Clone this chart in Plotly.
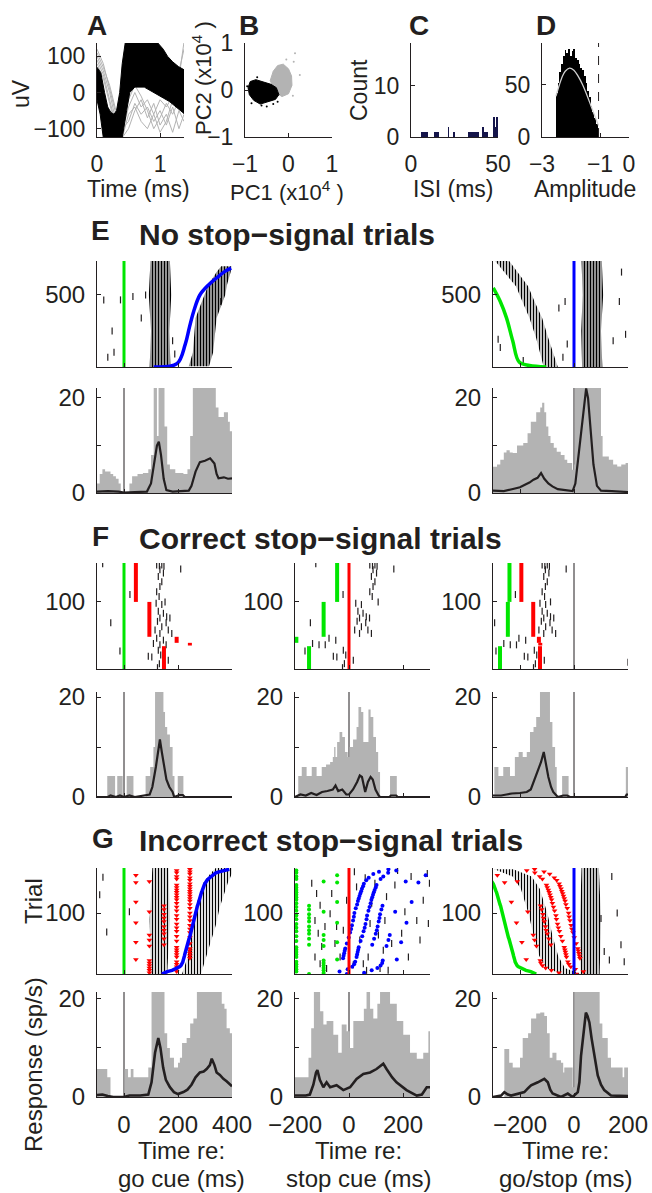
import plotly.graph_objects as go

W, H = 652, 1193
FONT = "Liberation Sans, Arial, Helvetica, sans-serif"
INK = "#231f20"
GRAY = "#b3b3b3"
GREEN = "#00e600"
BLUE = "#0000ff"
RED = "#ff0000"
NAVY = "#15154a"

# ================= DATA =================
# --- A: waveforms (ms, uV) ---
a_up_t = [0, 0.06, 0.12, 0.17, 0.22, 0.27, 0.31, 0.36, 0.40, 0.45, 0.95, 1.05, 1.12, 1.20, 1.29, 1.38]
a_up_v = [70, 55, 0, -40, -55, -60, -50, 0, 80, 140, 140, 120, 100, 85, 72, 63]
a_lo_t = [0, 0.05, 0.10, 0.40, 0.47, 0.52, 0.60, 0.75, 0.85, 0.95, 1.05, 1.15, 1.25, 1.38]
a_lo_v = [-20, -60, -125, -125, -50, 0, 15, 15, 5, -5, -15, -25, -40, -58]
a_gray_t = [0, 0.1, 0.2, 0.3, 0.4, 0.5, 0.6, 0.7, 0.8, 0.9, 1.0, 1.1, 1.2, 1.3, 1.38]
a_gray_1 = [120, 80, 10, -60, -100, -80, -30, -60, -40, -80, -50, -90, -40, -100, -60]
a_gray_2 = [100, 60, 0, -80, -125, -100, -50, -20, -70, -30, -90, -60, -110, -50, -80]
a_gray_3 = [90, 50, -20, -90, -110, -40, 0, -40, -20, -60, -20, -40, -10, 40, 140]
a_gray_4 = [110, 70, 20, -50, -90, -20, 20, -10, -50, -100, -70, -30, -60, -20, 10]
a_gray_5 = [80, 40, -30, -100, -125, -60, -40, -80, -100, -60, -110, -80, -20, 60, 120]

# --- B: PC clusters (x1e4) ---
b_black_x = [-0.93, -0.88, -0.75, -0.6, -0.4, -0.28, -0.22, -0.3, -0.45, -0.65, -0.8, -0.9]
b_black_y = [0.05, 0.18, 0.22, 0.18, 0.12, 0.05, -0.1, -0.2, -0.25, -0.3, -0.22, -0.1]
b_gray_x = [-0.42, -0.35, -0.25, -0.12, 0.0, 0.07, 0.08, 0.0, -0.15, -0.3]
b_gray_y = [0.2, 0.4, 0.52, 0.55, 0.45, 0.3, 0.1, -0.08, -0.14, -0.05]
b_gray_out_x = [0.15, 0.26, 0.12, -0.05, 0.1]
b_gray_out_y = [0.78, 0.32, 0.6, 0.65, -0.12]
b_black_out_x = [-0.95, -0.85, -0.5, -0.25, -0.72, -0.62, -0.35]
b_black_out_y = [0.08, -0.28, -0.35, -0.25, 0.27, -0.33, -0.3]

# --- C: ISI histogram ---
c_bin_left = [6, 7, 8, 9, 13, 14, 15, 21, 24, 33, 34, 35, 36, 37, 38, 41, 42, 43, 47, 48, 49]
c_count = [1, 1, 1, 1, 1, 1, 1, 2, 1, 1, 1, 1, 1, 1, 1, 2, 1, 1, 4, 2, 4]

# --- D: amplitude histogram ---
d_bin_left = [-2.52, -2.46, -2.40, -2.34, -2.28, -2.22, -2.16, -2.10, -2.04, -1.98, -1.92, -1.86, -1.80,
              -1.74, -1.68, -1.62, -1.56, -1.50, -1.44, -1.38, -1.32, -1.26, -1.20, -1.14, -1.08]
d_count = [42, 52, 62, 70, 78, 83, 80, 84, 78, 82, 84, 76, 74, 70, 66, 64, 58, 52, 44, 38, 30, 24, 18, 12, 8]
d_fit_x = [-2.52, -2.4, -2.3, -2.2, -2.05, -1.9, -1.75, -1.6, -1.45, -1.3, -1.15, -1.05]
d_fit_y = [39, 50, 58, 63, 66, 64, 58, 50, 40, 29, 18, 11]
d_thresh = -1.05

# --- E: no stop-signal trials ---
e_ntrials = 736
e1_b1_tr = [0, 250, 500, 736]
e1_b1_lo = [95, 100, 92, 98]
e1_b1_hi = [172, 168, 175, 170]
e1_b2_tr = [5, 100, 340, 500, 568, 660, 700]
e1_b2_lo = [240, 255, 265, 300, 312, 343, 360]
e1_b2_hi = [315, 330, 343, 375, 381, 395, 398]
e1_rt_tr = [0, 23, 159, 273, 386, 500, 568, 618, 664, 686]
e1_rt_t = [110, 196, 227, 242, 258, 281, 312, 343, 374, 397]
e1_sp_t = [-75, -13, -44, -60, -37, 33, 80, 64, 188, 180, 358]
e1_sp_tr = [466, 466, 250, 68, 102, 489, 500, 341, 91, 182, 455]

e3_go_tr = [550, 455, 341, 182, 34, 11, 0]
e3_go_t = [-299, -273, -250, -227, -203, -165, -103]
e3_bA_tr = [0, 20, 200, 341, 450, 560, 640, 736]
e3_bA_lo = [-110, -115, -140, -165, -190, -215, -250, -292]
e3_bA_hi = [-60, -65, -95, -118, -145, -170, -200, -240]
e3_bB_tr = [0, 250, 500, 736]
e3_bB_lo = [30, 27, 32, 28]
e3_bB_hi = [105, 100, 108, 103]
e3_sp_t = [-56, -33, -25, -41, 168, 176, 191, 145, -281, -273, -188]
e3_sp_tr = [409, 455, 159, 68, 455, 659, 227, 182, 193, 136, 45]

e1_g_t = [-100, -90, -80, -70, -50, -40, -30, -20, -12, 18, 20, 30, 50, 70, 90, 100, 110, 118, 122, 128,
          140, 150, 160, 170, 190, 220, 235, 245, 255, 330, 340, 350, 370, 385, 392, 400]
e1_g_v = [2, 4, 5, 4.5, 4, 3.5, 3, 2, 0, 0, 2, 3.5, 4, 4.2, 5, 8, 25, 25, 12, 25,
          25, 14, 6, 5, 4.2, 4, 5, 12, 25, 25, 18, 16, 17, 15, 13, 10]
e1_m_t = [-100, -60, -20, 0, 40, 85, 100, 112, 122, 129, 137, 147, 157, 180, 240, 250, 265, 281, 300, 319,
          335, 343, 350, 370, 385, 400]
e1_m_v = [0.3, 0.4, 0.3, 0.1, 0.2, 0.3, 2, 6, 10, 10.8, 8, 3, 0.6, 0.3, 0.5, 1.5, 4.5, 6.5, 6.8, 7.3,
          6.2, 4, 3.1, 3.3, 3.0, 3.1]
e3_g_t = [-300, -285, -273, -260, -250, -238, -227, -211, -188, -172, -160, -140, -125, -118, -110, -103, -95,
          -87, -75, -64, -49, -35, -25, -7, 0, 3, 95, 100, 106, 129, 145, 160, 175, 191, 200]
e3_g_v = [5.5, 6, 7, 8.5, 9, 8.5, 8.4, 10, 10.5, 12.6, 15, 17, 18, 19, 17, 14, 12,
          10.5, 9.5, 8.7, 8, 7, 6.3, 4.9, 6, 25, 25, 12, 7.7, 7, 6, 5.6, 6, 6.3, 6]
e3_m_t = [-300, -260, -230, -200, -180, -165, -150, -135, -122, -110, -95, -80, -60, -40, -20, -5, 5, 20,
          35, 45, 52, 60, 72, 85, 100, 140, 180, 200]
e3_m_v = [0.5, 0.4, 0.8, 1.2, 1.8, 2.2, 2.8, 3.2, 4.2, 3, 2, 1.4, 0.8, 0.6, 0.4, 0.4, 2, 10,
          18, 22, 20, 14, 6, 1.5, 0.5, 0.4, 0.3, 0.2]

# --- F: correct stop-signal trials ---
f_ntrials = 158
f_grp_lo = [100, 48, 39, 35, 0]
f_grp_hi = [158, 100, 48, 39, 34]
f_grp_ssd = [44, 94, 195, 244, 148]
f_grp_go3 = [-239, -245, -325, -369, -274]   # go-cue time in go/stop alignment
f_sp_t = [-79, 121, 131, 140, 148, 133, 146, 127, 140, 133, 121, 130, 119, 140, 152, 127, 146, 133, 158, 124,
          156, 140, 115, 164, 133, 121, 146, 177, 109, 133, 156, 127, 90, 103, 136, 164, 131, 124, 22, -49,
          -15, 210, 170, 474]
f_sp_tr = [157, 155, 154, 155, 153, 148, 143, 138, 130, 123, 115, 108, 98, 96, 100, 86, 83, 76, 78, 71,
           69, 63, 58, 58, 53, 46, 43, 53, 38, 36, 36, 28, 19, 18, 21, 13, 8, 2, 111, 69,
           27, 149, 76, 10]
f1_g_t = [-100, -62, -33, -25, -5, 10, 35, 80, 97, 109, 115, 146, 152, 160, 170, 180, 187, 199, 220, 400]
f1_g_v = [0, 4.2, 0, 4.2, 0, 4.2, 0, 4.2, 6, 10, 25, 17, 14, 12.5, 10, 4.2, 0, 4.2, 0, 0]
f1_m_t = [-100, -60, -50, -30, -15, 0, 20, 40, 95, 105, 118, 127, 133, 140, 148, 157, 168, 180, 186, 205,
          218, 225, 400]
f1_m_v = [0, 0, 0.3, 0, 0.3, 0, 0.3, 0, 0.5, 2, 6, 9, 11.5, 9, 6, 3.5, 2, 1, 0, 0.4, 0.4, 0, 0]
f2_g_t = [-200, -188, -175, -157, -138, -120, -101, -85, -70, -60, -55, -50, -44, -35, -25, -15, -5, 2, 15,
          28, 35, 45, 53, 72, 80, 90, 100, 108, 115, 152, 177, 300]
f2_g_v = [0, 4.2, 6, 4.2, 6, 4.2, 6, 6.5, 7, 8, 10, 8, 11, 13, 12, 9, 8, 10, 11.5, 14, 18, 17, 11, 17.5,
          16, 12, 9, 5, 0, 4.2, 0, 0]
f2_m_t = [-200, -180, -160, -140, -120, -100, -80, -60, -50, -40, -25, -10, 0, 15, 30, 40, 48, 55, 60, 70,
          80, 88, 98, 110, 115, 150, 155, 175, 180, 300]
f2_m_v = [0, 0.5, 0.3, 0.8, 0.4, 1, 1.2, 1.5, 2.3, 1.2, 1.5, 0.5, 0.5, 1.5, 3, 4.3, 4, 2, 1, 3,
          4, 3.5, 1.5, 0.3, 0, 0, 0.3, 0.3, 0, 0]
f3_g_t = [-300, -295, -280, -262, -237, -219, -205, -190, -175, -163, -150, -140, -126, -89, -80, -70, -64,
          -44, -20, 192, 200]
f3_g_v = [0, 6, 4.2, 6, 4.2, 8, 9, 8, 9, 13, 14, 16, 25, 15, 10, 6, 0, 4.2, 0, 6, 6]
f3_m_t = [-300, -270, -250, -230, -200, -175, -160, -150, -135, -122, -112, -105, -95, -85, -77, -65, -60,
          -40, -25, -15, 190, 195, 200]
f3_m_v = [0.3, 0.3, 0.5, 0.7, 0.8, 1, 1.5, 3, 5, 7, 9, 7, 4, 2, 1, 0.3, 0, 0.3, 0.3, 0, 0, 0.5, 0.5]

# --- G: incorrect stop-signal trials (trials sorted by RT) ---
g_ntrials = 174
g_trial = [0, 2, 4, 6, 8, 10, 12, 14, 16, 18, 20, 22, 24, 26, 28, 30, 32, 34, 36, 38, 40, 42, 44, 46, 48,
           50, 52, 54, 56, 58, 60, 62, 64, 66, 68, 70, 72, 74, 76, 78, 80, 82, 84, 86, 88, 90, 92, 94, 96,
           98, 100, 102, 104, 106, 108, 110, 112, 114, 116, 118, 120, 122, 124, 126, 128, 130, 132, 134,
           136, 138, 140, 142, 144, 146, 148, 150, 152, 154, 156, 158, 160, 162, 164, 166, 168, 170, 172]
g_rt = [140, 150, 160, 178, 190, 199, 207, 211, 214, 217, 218, 219, 221, 222, 223, 224, 225, 226, 227, 228,
        229, 230, 231, 233, 234, 236, 237, 238, 240, 241, 243, 244, 245, 247, 248, 249, 251, 252, 253, 254,
        255, 256, 257, 258, 259, 260, 261, 262, 262, 263, 264, 265, 267, 268, 269, 271, 272, 274, 275, 276,
        277, 278, 280, 281, 283, 284, 286, 287, 289, 290, 292, 294, 296, 297, 299, 301, 304, 308, 312, 317,
        322, 328, 334, 340, 355, 370, 390]
g_ssd_levels = [44, 94, 148, 195, 244]
g_ssd_code = "324242424242" "154545454542" "351423542354" "354354135435" "435243543541" "545454545454" "545125454154545"
g1_b1_tr = [0, 90, 174]
g1_b1_lo = [100, 95, 105]
g1_b1_hi = [160, 170, 165]
g1_b2_tr = [0, 20, 50, 80, 110, 130, 150, 165, 174]
g1_b2_lo = [215, 230, 245, 255, 265, 280, 295, 320, 340]
g1_b2_hi = [285, 300, 320, 340, 355, 370, 385, 400, 400]
g1_sp_t = [-64, 20, -78, -90]
g1_sp_tr = [69, 102, 159, 130]
g2_sp_t = [-138, -120, -107, -126, -114, -101, -126, -107, -83, -89, -70, -64, -52, -33, -21, -9, 28, 40, 53,
           71, 78, 84, 96, 109, 127, 133, 139, 145, 158, 170, 195, 207, 220, 251, 263, 275, 294, 298, 115,
           65, 16, -46, 180, 230, 290, 20, 60]
g2_sp_tr = [149, 132, 113, 88, 67, 45, 28, 17, 9, 78, 99, 132, 50, 28, 72, 121, 143, 56, 17, 28, 83, 116,
            149, 64, 39, 88, 127, 6, 50, 146, 67, 102, 28, 88, 56, 121, 83, 149, 9, 6, 15, 78, 170, 160, 165,
            168, 158]
g3_bA_tr = [0, 10, 30, 60, 100, 140, 160, 172]
g3_bA_lo = [-45, -104, -129, -148, -169, -197, -227, -295]
g3_bA_hi = [25, -34, -59, -78, -99, -127, -157, -225]
g3_bB_tr = [0, 90, 174]
g3_bB_lo = [25, 22, 28]
g3_bB_hi = [95, 100, 92]
g3_sp_t = [112, 174, 186, 131, 100, 140, 160]
g3_sp_tr = [37, 48, 20, 23, 91, 160, 100]

g1_g_t = [-100, -64, -62, -52, -50, 0, 2, 15, 25, 35, 47, 84, 90, 100, 102, 146, 150, 160, 170, 185, 200,
          207, 215, 232, 245, 257, 270, 356, 362, 372, 380, 392, 400]
g1_g_v = [5.7, 5.7, 4, 4, 0, 0, 5.7, 4, 5.7, 4, 4, 4, 6, 6, 25, 25, 13, 10, 8, 6, 7, 8, 11, 12, 15, 16, 25,
          25, 19, 18, 14, 13, 13]
g1_m_t = [-100, -80, -60, -40, 0, 20, 60, 90, 102, 115, 127, 135, 145, 155, 170, 185, 200, 220, 235, 250,
          265, 281, 295, 306, 318, 325, 335, 343, 355, 368, 380, 393, 400]
g1_m_v = [0.4, 0.5, 0.2, 0, 0, 0.3, 0.3, 0.5, 3, 9, 12, 10, 6, 3.5, 2, 1, 0.6, 1, 1.5, 2.5, 4, 5, 5.2, 5.7,
          6.5, 7.8, 6.5, 5, 4.5, 3.7, 3.2, 2.4, 2.2]
g2_g_t = [-200, -160, -150, -140, -130, -118, -107, -95, -83, -70, -58, -40, -27, -9, 3, 16, 40, 55, 65, 78,
          90, 105, 115, 140, 152, 177, 201, 226, 251, 275, 294, 300]
g2_g_v = [4, 4, 8, 14, 25, 25, 17.5, 14.8, 15.5, 15.5, 12.7, 9, 14.8, 13.4, 10, 15.5, 15.5, 18, 25, 18, 16,
          19, 25, 25, 19, 15.5, 12.7, 9, 7.8, 9, 13.4, 13]
g2_m_t = [-200, -160, -145, -132, -122, -117, -108, -95, -83, -70, -46, -21, 4, 28, 53, 78, 102, 127, 139,
          160, 176, 213, 251, 270, 288, 300]
g2_m_v = [0.3, 0.3, 0.5, 2.5, 5, 5.5, 3.5, 2, 3, 2, 2.4, 1.4, 2, 3.7, 4.7, 5, 5.7, 6.8, 5.7, 4, 3, 1.4, 0.3,
          0.5, 2, 2]
g3_g_t = [-300, -262, -258, -246, -240, -227, -209, -200, -190, -170, -159, -140, -125, -110, -100, -90, -80,
          -65, -48, -40, -36, -11, -5, 2, 88, 95, 105, 125, 137, 174, 180, 186, 200]
g3_g_v = [0, 0, 9.8, 9.8, 7, 6, 6, 8, 12, 13, 16, 17, 17.2, 16.5, 13, 8, 9, 7.5, 7, 5, 6, 6, 2, 25, 25, 15,
          12, 8, 6, 6, 4, 6, 6]
g3_m_t = [-300, -270, -258, -245, -233, -209, -184, -170, -159, -134, -120, -110, -97, -88, -79, -60, -48,
          -23, -5, 14, 20, 26, 38, 44, 50, 57, 65, 75, 88, 100, 112, 137, 186, 200]
g3_m_v = [0, 0.3, 1, 0.5, 0.3, 0.6, 1, 1.8, 2.4, 3, 3.5, 3.7, 3, 1.5, 0.7, 0.2, 0, 0.7, 0, 1, 3, 8.4, 13.9,
          17.2, 16.5, 15.2, 12, 8.4, 4.4, 2.5, 1.4, 0.3, 0.3, 0.2]

# ================= FIGURE =================
fig = go.Figure()
layout_axes = {}


def names(i):
    return ("x" if i == 1 else f"x{i}", "y" if i == 1 else f"y{i}")


def make_axes(i, box, xr, yr, xtv, ytv, ymin=None, xlab=False, fs=24):
    x0, x1, y0, y1 = box
    xn, yn = names(i)
    base = dict(showline=True, linecolor=INK, linewidth=1, ticks="inside", ticklen=4, tickcolor=INK,
                tickwidth=1, showgrid=False, zeroline=False, fixedrange=True, automargin=False,
                tickfont=dict(family=FONT, size=fs, color=INK))
    sfx = "" if i == 1 else str(i)
    layout_axes["xaxis" + sfx] = dict(base, domain=[x0 / W, x1 / W], range=xr, anchor=yn,
                                      tickvals=xtv, showticklabels=xlab, ticklabelstandoff=6)
    ya = dict(base, domain=[1 - y1 / H, 1 - y0 / H], range=yr, anchor=xn, tickvals=ytv,
              ticklabelstandoff=6)
    if ymin is not None:
        ya["minor"] = dict(tickvals=ymin, ticks="inside", ticklen=4, tickcolor=INK, tickwidth=1, showgrid=False)
    layout_axes["yaxis" + sfx] = ya


def add(i, tr):
    xn, yn = names(i)
    tr.update(xaxis=xn, yaxis=yn, showlegend=False, hoverinfo="skip")
    fig.add_trace(tr)


def band(i, trs, lo, hi, size=3, solidity=0.5):
    xs = list(lo) + list(hi)[::-1] + [lo[0]]
    ys = list(trs) + list(trs)[::-1] + [trs[0]]
    add(i, go.Scatter(x=xs, y=ys, mode="lines", line=dict(width=0, color="rgba(0,0,0,0)"),
                      fill="toself", fillcolor="rgba(0,0,0,0)",
                      fillpattern=dict(shape="|", fgcolor="#000000", fgopacity=1,
                                       bgcolor="rgba(255,255,255,0)",
                                       size=size, solidity=solidity, fillmode="overlay")))


def ticks(i, xs, ys, size=5):
    add(i, go.Scatter(x=xs, y=ys, mode="markers",
                      marker=dict(symbol="line-ns", size=size, line=dict(width=1.2, color=INK))))


def vline(i, x, y0, y1, color, width):
    add(i, go.Scatter(x=[x, x], y=[y0, y1], mode="lines", line=dict(color=color, width=width)))


def psth(i, gt, gv, mt, mv, top, mw=2.2):
    vline(i, 0, 0, top, INK, 1)
    add(i, go.Scatter(x=gt, y=gv, mode="lines", line=dict(width=0, shape="hv", color=GRAY),
                      fill="tozeroy", fillcolor=GRAY))
    add(i, go.Scatter(x=mt, y=mv, mode="lines", line=dict(width=mw, color=INK)))


cols = [(97, 232), (295, 430), (493, 628)]
xr = [[-100, 400], [-200, 300], [-300, 200]]
xtv = [[0, 200, 400], [-200, 0, 200], [-200, 0, 200]]
E_R, E_P = (261, 367), (388, 493)
F_R, F_P = (563, 669), (692, 797)
G_R, G_P = (868, 974), (992, 1097)
E_TOP, F_TOP, G_TOP = 22.1, 21.0, 21.4

# ---- A ----
make_axes(1, (97, 184, 43, 137), [0, 1.38], [-123, 137], [0, 1], [-100, 0, 100], xlab=True, fs=23)
for g in [a_gray_1, a_gray_2, a_gray_3, a_gray_4, a_gray_5]:
    add(1, go.Scatter(x=a_gray_t, y=g, mode="lines", line=dict(color=GRAY, width=1)))
add(1, go.Scatter(x=a_up_t + a_lo_t[::-1], y=a_up_v + a_lo_v[::-1], mode="lines", fill="toself",
                  fillcolor="black", line=dict(color="black", width=1)))

# ---- B ----
make_axes(2, (245, 332, 43, 137), [-1, 1], [-1, 1], [-1, 0, 1], [-1, 0, 1], xlab=True, fs=23)
add(2, go.Scatter(x=b_gray_x + b_gray_x[:1], y=b_gray_y + b_gray_y[:1], mode="lines", fill="toself",
                  fillcolor=GRAY, line=dict(color=GRAY, width=1)))
add(2, go.Scatter(x=b_gray_out_x, y=b_gray_out_y, mode="markers", marker=dict(color=GRAY, size=2)))
add(2, go.Scatter(x=b_black_x + b_black_x[:1], y=b_black_y + b_black_y[:1], mode="lines", fill="toself",
                  fillcolor="black", line=dict(color="black", width=1)))
add(2, go.Scatter(x=b_black_out_x, y=b_black_out_y, mode="markers", marker=dict(color="black", size=2)))

# ---- C ----
make_axes(3, (411, 498, 43, 137), [0, 50], [0, 18.4], [0, 50], [0, 10], xlab=True, fs=23)
add(3, go.Bar(x=[b + 0.5 for b in c_bin_left], y=c_count, width=1, marker=dict(color=NAVY, line=dict(width=0))))

# ---- D ----
make_axes(4, (542, 629, 43, 137), [-3, 0], [0, 90], [-3, -1, 0], [0, 50], xlab=True, fs=23)
add(4, go.Bar(x=[b + 0.03 for b in d_bin_left], y=d_count, width=0.06,
              marker=dict(color="black", line=dict(width=0))))
add(4, go.Scatter(x=d_fit_x, y=d_fit_y, mode="lines", line=dict(color="#d0d0d0", width=1.3, shape="spline")))
add(4, go.Scatter(x=[d_thresh, d_thresh], y=[0, 90], mode="lines", line=dict(color=INK, width=1, dash="dash")))

# ---- E ----
make_axes(5, (cols[0][0], cols[0][1], *E_R), xr[0], [0, e_ntrials], xtv[0], [500])
band(5, e1_b1_tr, e1_b1_lo, e1_b1_hi, 3, 0.62)
band(5, e1_b2_tr, e1_b2_lo, e1_b2_hi, 3, 0.62)
ticks(5, e1_sp_t, e1_sp_tr)
vline(5, 0, 0, e_ntrials, GREEN, 3)
add(5, go.Scatter(x=e1_rt_t, y=e1_rt_tr, mode="lines", line=dict(color=BLUE, width=3.5, shape="spline")))

make_axes(6, (cols[0][0], cols[0][1], *E_P), xr[0], [0, E_TOP], xtv[0], [0, 20], [10])
psth(6, e1_g_t, e1_g_v, e1_m_t, e1_m_v, E_TOP)

make_axes(7, (cols[2][0], cols[2][1], *E_R), xr[2], [0, e_ntrials], xtv[2], [500])
band(7, e3_bA_tr, e3_bA_lo, e3_bA_hi, 3, 0.5)
band(7, e3_bB_tr, e3_bB_lo, e3_bB_hi, 3, 0.62)
ticks(7, e3_sp_t, e3_sp_tr)
add(7, go.Scatter(x=e3_go_t, y=e3_go_tr, mode="lines", line=dict(color=GREEN, width=3.5, shape="spline")))
vline(7, 0, 0, e_ntrials, BLUE, 3)

make_axes(8, (cols[2][0], cols[2][1], *E_P), xr[2], [0, E_TOP], xtv[2], [0, 20], [10])
psth(8, e3_g_t, e3_g_v, e3_m_t, e3_m_v, E_TOP)


# ---- F ----
def fgroup(tr):
    for k, lo in enumerate(f_grp_lo):
        if tr >= lo:
            return k
    return len(f_grp_lo) - 1


f2_t = [t - f_grp_ssd[fgroup(r)] for t, r in zip(f_sp_t, f_sp_tr)]
f3_t = [t + f_grp_go3[fgroup(r)] for t, r in zip(f_sp_t, f_sp_tr)]


def segs(xs, los, his):
    X, Y = [], []
    for x, lo, hi in zip(xs, los, his):
        X += [x, x, None]
        Y += [lo, hi, None]
    return X, Y


make_axes(9, (cols[0][0], cols[0][1], *F_R), xr[0], [0, f_ntrials], xtv[0], [100])
ticks(9, f_sp_t, f_sp_tr)
vline(9, 0, 0, f_ntrials, GREEN, 3)
X, Y = segs(f_grp_ssd, f_grp_lo, f_grp_hi)
add(9, go.Scatter(x=X, y=Y, mode="lines", line=dict(color=RED, width=4)))
make_axes(10, (cols[0][0], cols[0][1], *F_P), xr[0], [0, F_TOP], xtv[0], [0, 20], [10])
psth(10, f1_g_t, f1_g_v, f1_m_t, f1_m_v, F_TOP)

make_axes(11, (cols[1][0], cols[1][1], *F_R), xr[1], [0, f_ntrials], xtv[1], [100])
ticks(11, f2_t, f_sp_tr)
X, Y = segs([-s for s in f_grp_ssd], f_grp_lo, f_grp_hi)
add(11, go.Scatter(x=X, y=Y, mode="lines", line=dict(color=GREEN, width=4)))
vline(11, 0, 0, f_ntrials, RED, 3)
make_axes(12, (cols[1][0], cols[1][1], *F_P), xr[1], [0, F_TOP], xtv[1], [0, 20], [10])
psth(12, f2_g_t, f2_g_v, f2_m_t, f2_m_v, F_TOP)

make_axes(13, (cols[2][0], cols[2][1], *F_R), xr[2], [0, f_ntrials], xtv[2], [100])
vline(13, 0, 0, f_ntrials, INK, 1)
ticks(13, f3_t, f_sp_tr)
X, Y = segs(f_grp_go3, f_grp_lo, f_grp_hi)
add(13, go.Scatter(x=X, y=Y, mode="lines", line=dict(color=GREEN, width=4)))
X, Y = segs([g + s for g, s in zip(f_grp_go3, f_grp_ssd)], f_grp_lo, f_grp_hi)
add(13, go.Scatter(x=X, y=Y, mode="lines", line=dict(color=RED, width=4)))
make_axes(14, (cols[2][0], cols[2][1], *F_P), xr[2], [0, F_TOP], xtv[2], [0, 20], [10])
psth(14, f3_g_t, f3_g_v, f3_m_t, f3_m_v, F_TOP)

# ---- G ----
g_ssd = [g_ssd_levels[int(c) - 1] for c in g_ssd_code]
tri = dict(symbol="triangle-down", size=5, color=RED, line=dict(width=0))
dot_g = dict(symbol="circle", size=4, color=GREEN, line=dict(width=0))
dot_b = dict(symbol="circle", size=4, color=BLUE, line=dict(width=0))

make_axes(15, (cols[0][0], cols[0][1], *G_R), xr[0], [0, g_ntrials], xtv[0], [100])
band(15, g1_b1_tr, g1_b1_lo, g1_b1_hi, 3, 0.45)
band(15, g1_b2_tr, g1_b2_lo, g1_b2_hi, 3, 0.42)
ticks(15, g1_sp_t, g1_sp_tr)
vline(15, 0, 0, g_ntrials, GREEN, 3)
add(15, go.Scatter(x=g_ssd, y=g_trial, mode="markers", marker=tri))
add(15, go.Scatter(x=g_rt, y=g_trial, mode="lines", line=dict(color=BLUE, width=3.5)))
make_axes(16, (cols[0][0], cols[0][1], *G_P), xr[0], [0, G_TOP], xtv[0], [0, 20], [10], xlab=True)
psth(16, g1_g_t, g1_g_v, g1_m_t, g1_m_v, G_TOP, 2.6)

make_axes(17, (cols[1][0], cols[1][1], *G_R), xr[1], [0, g_ntrials], xtv[1], [100])
ticks(17, g2_sp_t, g2_sp_tr)
add(17, go.Scatter(x=[-s for s in g_ssd], y=g_trial, mode="markers", marker=dot_g))
add(17, go.Scatter(x=[r - s for r, s in zip(g_rt, g_ssd)], y=g_trial, mode="markers", marker=dot_b))
vline(17, 0, 0, g_ntrials, RED, 3)
make_axes(18, (cols[1][0], cols[1][1], *G_P), xr[1], [0, G_TOP], xtv[1], [0, 20], [10], xlab=True)
psth(18, g2_g_t, g2_g_v, g2_m_t, g2_m_v, G_TOP, 2.6)

make_axes(19, (cols[2][0], cols[2][1], *G_R), xr[2], [0, g_ntrials], xtv[2], [100])
band(19, g3_bA_tr, g3_bA_lo, g3_bA_hi, 3, 0.42)
band(19, g3_bB_tr, g3_bB_lo, g3_bB_hi, 3, 0.5)
ticks(19, g3_sp_t, g3_sp_tr)
add(19, go.Scatter(x=[-r for r in g_rt], y=g_trial, mode="lines", line=dict(color=GREEN, width=3.5)))
add(19, go.Scatter(x=[s - r for r, s in zip(g_rt, g_ssd)], y=g_trial, mode="markers", marker=tri))
vline(19, 0, 0, g_ntrials, BLUE, 3)
make_axes(20, (cols[2][0], cols[2][1], *G_P), xr[2], [0, G_TOP], xtv[2], [0, 20], [10], xlab=True)
psth(20, g3_g_t, g3_g_v, g3_m_t, g3_m_v, G_TOP, 2.6)

# ---- annotations ----
ann = []


def text(s, px, py, size, bold=False, angle=0, xanchor="center"):
    ann.append(dict(text=f"<b>{s}</b>" if bold else s, x=px / W, y=1 - py / H, xref="paper", yref="paper",
                    xanchor=xanchor, yanchor="middle", showarrow=False, textangle=angle,
                    font=dict(family=FONT, size=size, color=INK)))


for s, px in [("A", 97), ("B", 249), ("C", 419), ("D", 546)]:
    text(s, px, 25, 28, bold=True)
text("uV", 21, 94, 23, angle=-90)
text("Time (ms)", 138, 189, 23)
text("PC1 (x10<sup>4</sup> )", 287, 191, 22)
text("PC2 (x10<sup>4</sup> )", 202, 78, 22, angle=-90)
text("Count", 359, 90, 23, angle=-90)
text("ISI (ms)", 453, 189, 23)
text("Amplitude", 585, 189, 23)

text("E", 100, 231, 28, bold=True)
text("No stop\u2212signal trials", 137, 234, 30, bold=True, xanchor="left")
text("F", 100, 537, 28, bold=True)
text("Correct stop\u2212signal trials", 137, 538, 30, bold=True, xanchor="left")
text("G", 103, 839, 28, bold=True)
text("Incorrect stop\u2212signal trials", 137, 840, 30, bold=True, xanchor="left")

text("Trial", 33, 901, 24, angle=-90)
text("Response (sp/s)", 33, 1065, 24, angle=-90)
for px, l2 in [(181, "go cue (ms)"), (358, "stop cue (ms)"), (565, "go/stop (ms)")]:
    text("Time re:", px, 1150, 24)
    text(l2, px, 1178, 24)

fig.update_layout(template="none", width=W, height=H,
                  margin=dict(l=0, r=0, t=0, b=0, pad=0, autoexpand=False), plot_bgcolor="white",
                  paper_bgcolor="white", showlegend=False, annotations=ann, bargap=0,
                  font=dict(family=FONT, color=INK), **layout_axes)
fig.write_html("out.html", config={"displayModeBar": False, "staticPlot": True},
               post_script="document.body.style.margin='0';document.body.style.padding='0';"
                           "document.body.style.overflow='hidden';")
